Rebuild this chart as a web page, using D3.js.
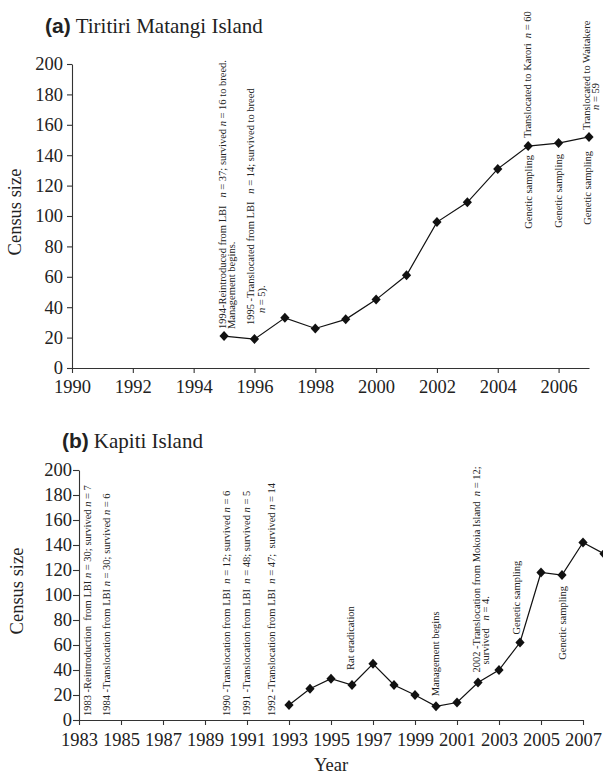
<!DOCTYPE html>
<html>
<head>
<meta charset="utf-8">
<script src="https://cdn.jsdelivr.net/npm/d3@7"></script>
<style>
  html, body { margin: 0; padding: 0; background: #fff; }
  svg { display: block; }
  .serif, .serif text { font-family: "Liberation Serif", "Times New Roman", "DejaVu Serif", serif !important; }
  .sans { font-family: "Liberation Sans", Arial, sans-serif !important; }
  .note { white-space: pre; }
</style>
</head>
<body>
<script>
// Census counts of the translocated populations, one value per year.
const yearsTiritiri = [1995, 1996, 1997, 1998, 1999, 2000, 2001, 2002, 2003, 2004, 2005, 2006, 2007];
const censusTiritiri = [21, 19, 33, 26, 32, 45, 61, 96, 109, 131, 146, 148, 152];

const yearsKapiti = [1993, 1994, 1995, 1996, 1997, 1998, 1999, 2000, 2001, 2002, 2003, 2004, 2005, 2006, 2007, 2008];
const censusKapiti = [12, 25, 33, 28, 45, 28, 20, 11, 14, 30, 40, 62, 118, 116, 142, 133];

const yearTicksTiritiri = [1990, 1992, 1994, 1996, 1998, 2000, 2002, 2004, 2006];
const yearTicksKapiti = [1983, 1985, 1987, 1989, 1991, 1993, 1995, 1997, 1999, 2001, 2003, 2005, 2007];
const censusTicks = [0, 20, 40, 60, 80, 100, 120, 140, 160, 180, 200];

// Event notes: year of the event, the census value it sits against and its text
// lines (*n* marks an italic n).
const notesTiritiri = [
  { year: 1995, value: 21, side: "above", lines: ["1994-Reintroduced from LBI   *n* = 37; survived *n* = 16 to breed.", "Management begins."] },
  { year: 1996, value: 19, side: "above", lines: ["1995 -Translocated from LBI   *n* = 14; survived to breed", "*n* = 5)."] },
  { year: 2005, value: 146, side: "below", lines: ["Genetic sampling"] },
  { year: 2005, value: 146, side: "above", lines: ["Translocated to Karori  *n* = 60"] },
  { year: 2006, value: 148, side: "below", lines: ["Genetic sampling"] },
  { year: 2007, value: 152, side: "below", lines: ["Genetic sampling"] },
  { year: 2007, value: 152, side: "above", lines: ["Translocated to Waitakere", "*n* = 59"] }
];
const notesKapiti = [
  { year: 1983, value: 0, side: "above", lines: ["1983 -Reintroduction  from LBI *n* = 30; survived *n* = 7"] },
  { year: 1984, value: 0, side: "above", lines: ["1984 -Translocation from LBI *n* = 30; survived *n* = 6"] },
  { year: 1990, value: 0, side: "above", lines: ["1990 -Translocation from LBI  *n* = 12; survived *n* = 6"] },
  { year: 1991, value: 0, side: "above", lines: ["1991 -Translocation from LBI  *n* = 48; survived *n* = 5"] },
  { year: 1992, value: 0, side: "above", lines: ["1992 -Translocation from LBI  *n* = 47;  survived *n* = 14"] },
  { year: 1996, value: 28, side: "above", lines: ["Rat eradication"] },
  { year: 2000, value: 11, side: "above", lines: ["Management begins"] },
  { year: 2002, value: 30, side: "above", lines: ["2002 -Translocation from Mokoia Island  *n* = 12;", "survived   *n* = 4."] },
  { year: 2004, value: 62, side: "above", lines: ["Genetic sampling"] },
  { year: 2006, value: 116, side: "below", lines: ["Genetic sampling"] }
];

// Placement of each note: baseline shift from the year, gap from the point,
// and how far the second line is indented.
const placeTiritiri = [
  { dx: 2, gap: 7, indent: 0, lead: 9 },
  { dx: 0, gap: 14, indent: 12, lead: 11 },
  { dx: 4, gap: 9 },
  { dx: 3, gap: 8 },
  { dx: 3, gap: 11 },
  { dx: 2, gap: 14 },
  { dx: 1, gap: 7, indent: 20, lead: 9 }
];
const placeKapiti = [
  { dx: 12, gap: 4 },
  { dx: 10, gap: 4 },
  { dx: 4, gap: 4 },
  { dx: 3, gap: 4 },
  { dx: 7, gap: 4 },
  { dx: 2, gap: 15 },
  { dx: 3, gap: 10 },
  { dx: 2, gap: 10, indent: 8, lead: 9 },
  { dx: 0, gap: 8 },
  { dx: 4, gap: 11 }
];

const W = 603, H = 775;

const svg = d3.select("body").append("svg")
  .attr("width", W).attr("height", H)
  .attr("viewBox", `0 0 ${W} ${H}`);
svg.append("rect").attr("width", W).attr("height", H).attr("fill", "#fff");

function addRich(sel, str) {
  str.split(/(\*n\*)/).forEach(part => {
    if (!part) return;
    if (part === "*n*") sel.append("tspan").attr("font-style", "italic").text("n");
    else sel.append("tspan").text(part);
  });
}

function drawPanel(opt) {
  const x = d3.scaleLinear().domain(opt.xDomain).range(opt.xRange);
  const y = d3.scaleLinear().domain([0, 200]).range(opt.yRange);
  const g = svg.append("g").attr("class", "serif");

  // Title: bold letter in sans, island name in serif
  const title = g.append("text")
    .attr("x", opt.titleX).attr("y", opt.titleY)
    .attr("font-size", 21).attr("fill", "#222");
  title.append("tspan").attr("class", "sans").attr("font-weight", "bold").text(opt.letter);
  title.append("tspan").attr("dx", 5).text(opt.island);

  // Axes
  const xAxis = g.append("g")
    .attr("transform", `translate(0,${opt.yRange[0]})`)
    .call(d3.axisBottom(x).tickValues(opt.xTicks).tickFormat(d3.format("d"))
      .tickSizeInner(5).tickSizeOuter(0).tickPadding(opt.xPad));
  const yAxis = g.append("g")
    .attr("transform", `translate(${opt.xRange[0]},0)`)
    .call(d3.axisLeft(y).tickValues(censusTicks)
      .tickSizeInner(opt.yTick).tickSizeOuter(0).tickPadding(opt.yPad));
  [xAxis, yAxis].forEach(a => {
    a.attr("font-family", null).attr("font-size", 18.5);
    a.selectAll("path, line").attr("stroke", "#333").attr("stroke-width", 1.1);
    a.selectAll("text").attr("fill", "#222");
  });

  g.append("text")
    .attr("transform", `translate(${opt.yLabelX},${(opt.yRange[0] + opt.yRange[1]) / 2 - 4}) rotate(-90)`)
    .attr("text-anchor", "middle")
    .attr("font-size", 18.5).attr("fill", "#222")
    .text("Census size");

  if (opt.xLabel) {
    g.append("text")
      .attr("x", (opt.xRange[0] + opt.xRange[1]) / 2).attr("y", opt.xLabelY)
      .attr("text-anchor", "middle")
      .attr("font-size", 18.5).attr("fill", "#222")
      .text(opt.xLabel);
  }

  // Census series
  const pts = opt.years.map((yr, i) => [yr, opt.values[i]]);
  g.append("path")
    .datum(pts)
    .attr("fill", "none").attr("stroke", "#111").attr("stroke-width", 1.2)
    .attr("d", d3.line().x(d => x(d[0])).y(d => y(d[1])));
  g.selectAll("path.pt").data(pts).join("path")
    .attr("class", "pt")
    .attr("transform", d => `translate(${x(d[0])},${y(d[1])})`)
    .attr("d", "M0,-5L4.6,0L0,5L-4.6,0Z")
    .attr("fill", "#111");

  // Event notes, written upward
  opt.notes.forEach((n, i) => {
    const p = opt.place[i];
    const px = x(n.year), py = y(n.value);
    n.lines.forEach((line, j) => {
      const bx = px + p.dx + j * (p.lead || 9);
      let by, anchor;
      if (n.side === "above") { by = py - p.gap - (j ? (p.indent || 0) : 0); anchor = "start"; }
      else { by = py + p.gap; anchor = "end"; }
      const t = g.append("text")
        .attr("class", "note")
        .attr("transform", `translate(${bx},${by}) rotate(-90)`)
        .attr("text-anchor", anchor)
        .attr("font-size", 10.5).attr("fill", "#222");
      addRich(t, line);
    });
  });
}

drawPanel({
  letter: "(a)", island: "Tiritiri Matangi Island", titleX: 45, titleY: 33,
  xDomain: [1990, 2007], xRange: [72, 589], yRange: [368, 64],
  xTicks: yearTicksTiritiri, xPad: 7, yTick: 5, yPad: 4, yLabelX: 21,
  years: yearsTiritiri, values: censusTiritiri,
  notes: notesTiritiri, place: placeTiritiri
});

drawPanel({
  letter: "(b)", island: "Kapiti Island", titleX: 62, titleY: 448,
  xDomain: [1983, 2007], xRange: [79, 583], yRange: [720, 470],
  xTicks: yearTicksKapiti, xPad: 8, yTick: 6, yPad: 1, yLabelX: 23,
  xLabel: "Year", xLabelY: 771,
  years: yearsKapiti, values: censusKapiti,
  notes: notesKapiti, place: placeKapiti
});
</script>
</body>
</html>
